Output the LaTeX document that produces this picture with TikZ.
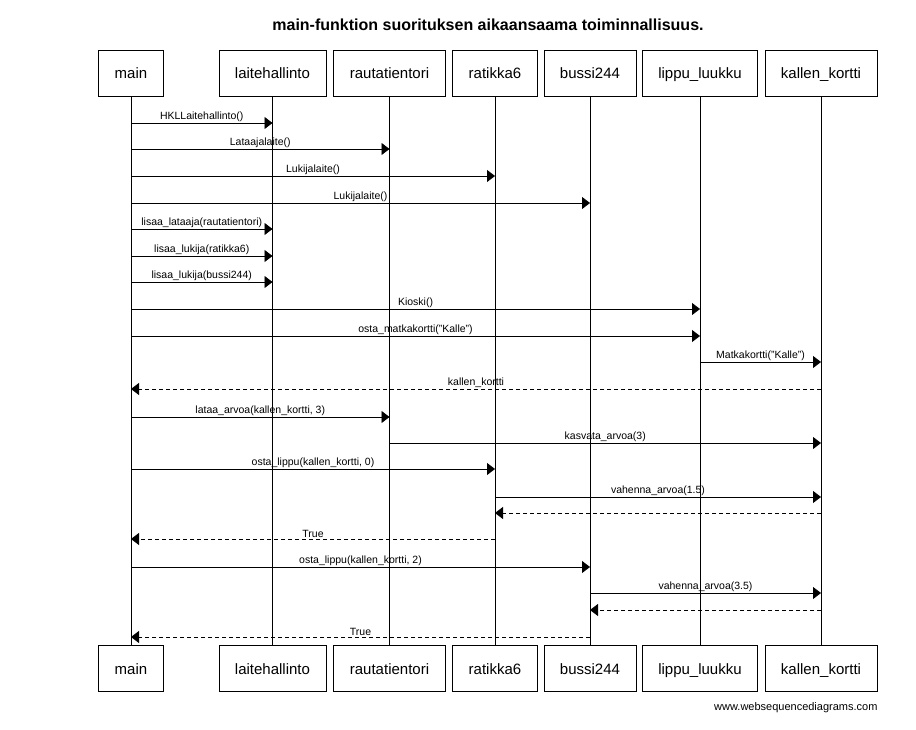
\documentclass[tikz,border=0pt]{standalone}
\usepackage{fontspec}
\setmainfont{Liberation Sans}
\usetikzlibrary{arrows.meta,positioning}

\begin{document}
\begin{tikzpicture}[
    x=1pt, y=-1pt,
    actor/.style={draw, line width=0.8pt, minimum height=46pt, inner xsep=16pt,
      text height=15pt, text depth=3pt, font=\fontsize{15}{18}\selectfont},
    lifeline/.style={line width=0.8pt},
    call/.style={-{Triangle[length=8pt, width=12pt]}, line width=0.8pt},
    reply/.style={call, dash pattern=on 4pt off 3pt},
    msgtext/.style={midway, above=1pt, inner sep=0pt, font=\fontsize{10.5}{12}\selectfont}
  ]
    \useasboundingbox (0,0) rectangle (916,730);
    \node[font=\bfseries\fontsize{16}{19}\selectfont] (title) at (488,25)
      {main-funktion suorituksen aikaansaama toiminnallisuus.};
    % participants, top row
    \node[actor] (mainT) at (131,73) {main};
    \node[actor] (laiT) at (272.5,73) {laitehallinto};
    \node[actor] (rauT) at (389.5,73) {rautatientori};
    \node[actor] (ratT) at (495,73) {ratikka6};
    \node[actor] (busT) at (590,73) {bussi244};
    \node[actor] (lipT) at (700,73) {lippu\_luukku};
    \node[actor] (kalT) at (821,73) {kallen\_kortti};
    % participants, bottom row
    \node[actor, below=549pt of mainT] (mainB) {main};
    \node[actor, below=549pt of laiT] (laiB) {laitehallinto};
    \node[actor, below=549pt of rauT] (rauB) {rautatientori};
    \node[actor, below=549pt of ratT] (ratB) {ratikka6};
    \node[actor, below=549pt of busT] (busB) {bussi244};
    \node[actor, below=549pt of lipT] (lipB) {lippu\_luukku};
    \node[actor, below=549pt of kalT] (kalB) {kallen\_kortti};
    \draw[lifeline] (mainT) -- (mainB);
    \draw[lifeline] (laiT) -- (laiB);
    \draw[lifeline] (rauT) -- (rauB);
    \draw[lifeline] (ratT) -- (ratB);
    \draw[lifeline] (busT) -- (busB);
    \draw[lifeline] (lipT) -- (lipB);
    \draw[lifeline] (kalT) -- (kalB);
    % messages
    \draw[call] (mainT |- 0,123) -- node[msgtext] {HKLLaitehallinto()} (laiT |- 0,123);
    \draw[call] (mainT |- 0,149) -- node[msgtext] {Lataajalaite()} (rauT |- 0,149);
    \draw[call] (mainT |- 0,176) -- node[msgtext] {Lukijalaite()} (ratT |- 0,176);
    \draw[call] (mainT |- 0,203) -- node[msgtext] {Lukijalaite()} (busT |- 0,203);
    \draw[call] (mainT |- 0,229) -- node[msgtext] {lisaa\_lataaja(rautatientori)} (laiT |- 0,229);
    \draw[call] (mainT |- 0,256) -- node[msgtext] {lisaa\_lukija(ratikka6)} (laiT |- 0,256);
    \draw[call] (mainT |- 0,282) -- node[msgtext] {lisaa\_lukija(bussi244)} (laiT |- 0,282);
    \draw[call] (mainT |- 0,309) -- node[msgtext] {Kioski()} (lipT |- 0,309);
    \draw[call] (mainT |- 0,336) -- node[msgtext] {osta\_matkakortti("Kalle")} (lipT |- 0,336);
    \draw[call] (lipT |- 0,362) -- node[msgtext] {Matkakortti("Kalle")} (kalT |- 0,362);
    \draw[reply] (kalT |- 0,389) -- node[msgtext] {kallen\_kortti} (mainT |- 0,389);
    \draw[call] (mainT |- 0,417) -- node[msgtext] {lataa\_arvoa(kallen\_kortti, 3)} (rauT |- 0,417);
    \draw[call] (rauT |- 0,443) -- node[msgtext] {kasvata\_arvoa(3)} (kalT |- 0,443);
    \draw[call] (mainT |- 0,469) -- node[msgtext] {osta\_lippu(kallen\_kortti, 0)} (ratT |- 0,469);
    \draw[call] (ratT |- 0,497) -- node[msgtext] {vahenna\_arvoa(1.5)} (kalT |- 0,497);
    \draw[reply] (kalT |- 0,513) -- (ratT |- 0,513);
    \draw[reply] (ratT |- 0,539) -- node[msgtext] {True} (mainT |- 0,539);
    \draw[call] (mainT |- 0,567) -- node[msgtext] {osta\_lippu(kallen\_kortti, 2)} (busT |- 0,567);
    \draw[call] (busT |- 0,593) -- node[msgtext] {vahenna\_arvoa(3.5)} (kalT |- 0,593);
    \draw[reply] (kalT |- 0,610) -- (busT |- 0,610);
    \draw[reply] (busT |- 0,637) -- node[msgtext] {True} (mainT |- 0,637);
    \node[anchor=east, font=\fontsize{11}{13}\selectfont] (credit) at (881,708)
      {www.websequencediagrams.com};
  \end{tikzpicture}
\end{document}
